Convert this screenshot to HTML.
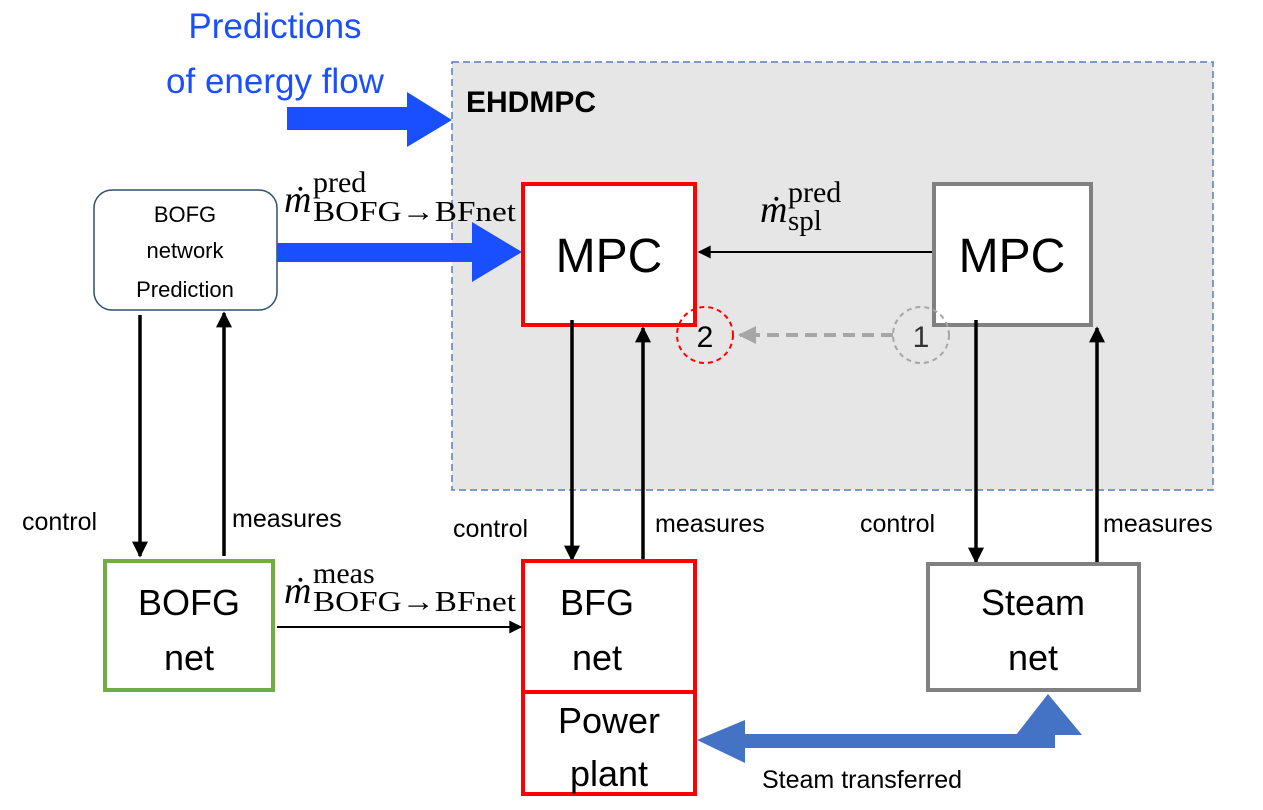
<!DOCTYPE html>
<html><head><style>
body{margin:0;background:#fff;}
svg text{font-family:"Liberation Sans",sans-serif;}
.s{font-family:"Liberation Serif",serif;}
</style></head><body>
<svg width="1263" height="805" viewBox="0 0 1263 805" xmlns="http://www.w3.org/2000/svg">
<defs>
<marker id="ah" viewBox="0 0 10 10" markerWidth="14" markerHeight="13" refX="9" refY="5" orient="auto" markerUnits="userSpaceOnUse"><path d="M0,0 L10,5 L0,10 z" fill="#000"/></marker>
<marker id="ahb" viewBox="0 0 10 10" markerWidth="16" markerHeight="16" refX="9" refY="5" orient="auto" markerUnits="userSpaceOnUse"><path d="M0,0 L10,5 L0,10 z" fill="#000"/></marker>
</defs>
<rect x="452" y="62" width="761" height="428" fill="#e7e6e6" stroke="#5b7bb5" stroke-width="1.5" stroke-dasharray="7,4"/>
<text x="466" y="112" font-size="30" font-weight="bold">EHDMPC</text>
<text x="275" y="38" font-size="35" fill="#1a4fff" text-anchor="middle">Predictions</text>
<text x="275" y="93" font-size="35" fill="#1a4fff" text-anchor="middle">of energy flow</text>
<path d="M287,107 L407,107 L407,92 L452,120 L407,147 L407,130 L287,130 z" fill="#1a4fff"/>
<rect x="94" y="190" width="183" height="120" rx="18" fill="#fff" stroke="#2f4f6f" stroke-width="1.5"/>
<text x="185" y="222" font-size="22" text-anchor="middle">BOFG</text>
<text x="185" y="258" font-size="22" text-anchor="middle">network</text>
<text x="185" y="297" font-size="22" text-anchor="middle">Prediction</text>
<path d="M277,243 L472,243 L472,222 L522,252 L472,282 L472,262 L277,262 z" fill="#1a4fff"/>
<text class="s" x="284" y="212" font-size="38" font-style="italic">ṁ</text>
<text class="s" x="313" y="192" font-size="30">pred</text>
<text class="s" x="313" y="221" font-size="29" textLength="203" lengthAdjust="spacingAndGlyphs">BOFG→BFnet</text>
<rect x="523" y="184" width="172" height="141" fill="#fff" stroke="#ff0000" stroke-width="4"/>
<text x="609" y="272" font-size="48" text-anchor="middle">MPC</text>
<rect x="934" y="184" width="157" height="141" fill="#fff" stroke="#808080" stroke-width="4"/>
<text x="1012" y="272" font-size="48" text-anchor="middle">MPC</text>
<line x1="932" y1="252" x2="699" y2="252" stroke="#000" stroke-width="2" marker-end="url(#ah)"/>
<text class="s" x="760" y="222" font-size="38" font-style="italic">ṁ</text>
<text class="s" x="788" y="202" font-size="30">pred</text>
<text class="s" x="788" y="230" font-size="29">spl</text>
<circle cx="705" cy="335" r="28" fill="none" stroke="#ff0000" stroke-width="2" stroke-dasharray="5,4"/>
<text x="705" y="347" font-size="30" text-anchor="middle">2</text>
<circle cx="921" cy="335" r="28" fill="none" stroke="#a6a6a6" stroke-width="2" stroke-dasharray="5,4"/>
<text x="921" y="347" font-size="30" text-anchor="middle" fill="#333">1</text>
<line x1="893" y1="335" x2="740" y2="335" stroke="#a6a6a6" stroke-width="4" stroke-dasharray="12,7"/>
<path d="M738,335 L756,326 L756,344 z" fill="#a6a6a6"/>
<g stroke="#000" stroke-width="3.5">
<line x1="572" y1="320" x2="572" y2="560" marker-end="url(#ahb)"/>
<line x1="643" y1="560" x2="643" y2="328" marker-end="url(#ahb)"/>
<line x1="976" y1="320" x2="976" y2="562" marker-end="url(#ahb)"/>
<line x1="1097" y1="562" x2="1097" y2="328" marker-end="url(#ahb)"/>
<line x1="140" y1="315" x2="140" y2="556" marker-end="url(#ahb)"/>
<line x1="224" y1="556" x2="224" y2="313" marker-end="url(#ahb)"/>
</g>
<g font-size="25">
<text x="22" y="530">control</text>
<text x="232" y="527">measures</text>
<text x="453" y="537">control</text>
<text x="655" y="532">measures</text>
<text x="860" y="532">control</text>
<text x="1103" y="532">measures</text>
</g>
<rect x="105" y="561" width="168" height="129" fill="#fff" stroke="#70ad47" stroke-width="4"/>
<text x="189" y="615" font-size="36" text-anchor="middle">BOFG</text>
<text x="189" y="670" font-size="36" text-anchor="middle">net</text>
<rect x="523" y="561" width="172" height="131" fill="#fff" stroke="#ff0000" stroke-width="4"/>
<text x="597" y="615" font-size="36" text-anchor="middle">BFG</text>
<text x="597" y="670" font-size="36" text-anchor="middle">net</text>
<rect x="523" y="692" width="172" height="102" fill="#fff" stroke="#ff0000" stroke-width="4"/>
<text x="609" y="733" font-size="36" text-anchor="middle">Power</text>
<text x="609" y="786" font-size="36" text-anchor="middle">plant</text>
<rect x="928" y="564" width="211" height="126" fill="#fff" stroke="#808080" stroke-width="4"/>
<text x="1033" y="615" font-size="36" text-anchor="middle">Steam</text>
<text x="1033" y="670" font-size="36" text-anchor="middle">net</text>
<line x1="277" y1="627" x2="521" y2="627" stroke="#000" stroke-width="2" marker-end="url(#ah)"/>
<text class="s" x="284" y="603" font-size="38" font-style="italic">ṁ</text>
<text class="s" x="313" y="583" font-size="30">meas</text>
<text class="s" x="313" y="611" font-size="29" textLength="203" lengthAdjust="spacingAndGlyphs">BOFG→BFnet</text>
<path d="M697,740 L745,720 L745,734 L1041,734 L1041,735 L1016,735 L1048,694 L1082,735 L1055,735 L1055,748 L745,748 L745,763 z" fill="#4472c4"/>
<text x="762" y="788" font-size="25">Steam transferred</text>
</svg>
</body></html>
